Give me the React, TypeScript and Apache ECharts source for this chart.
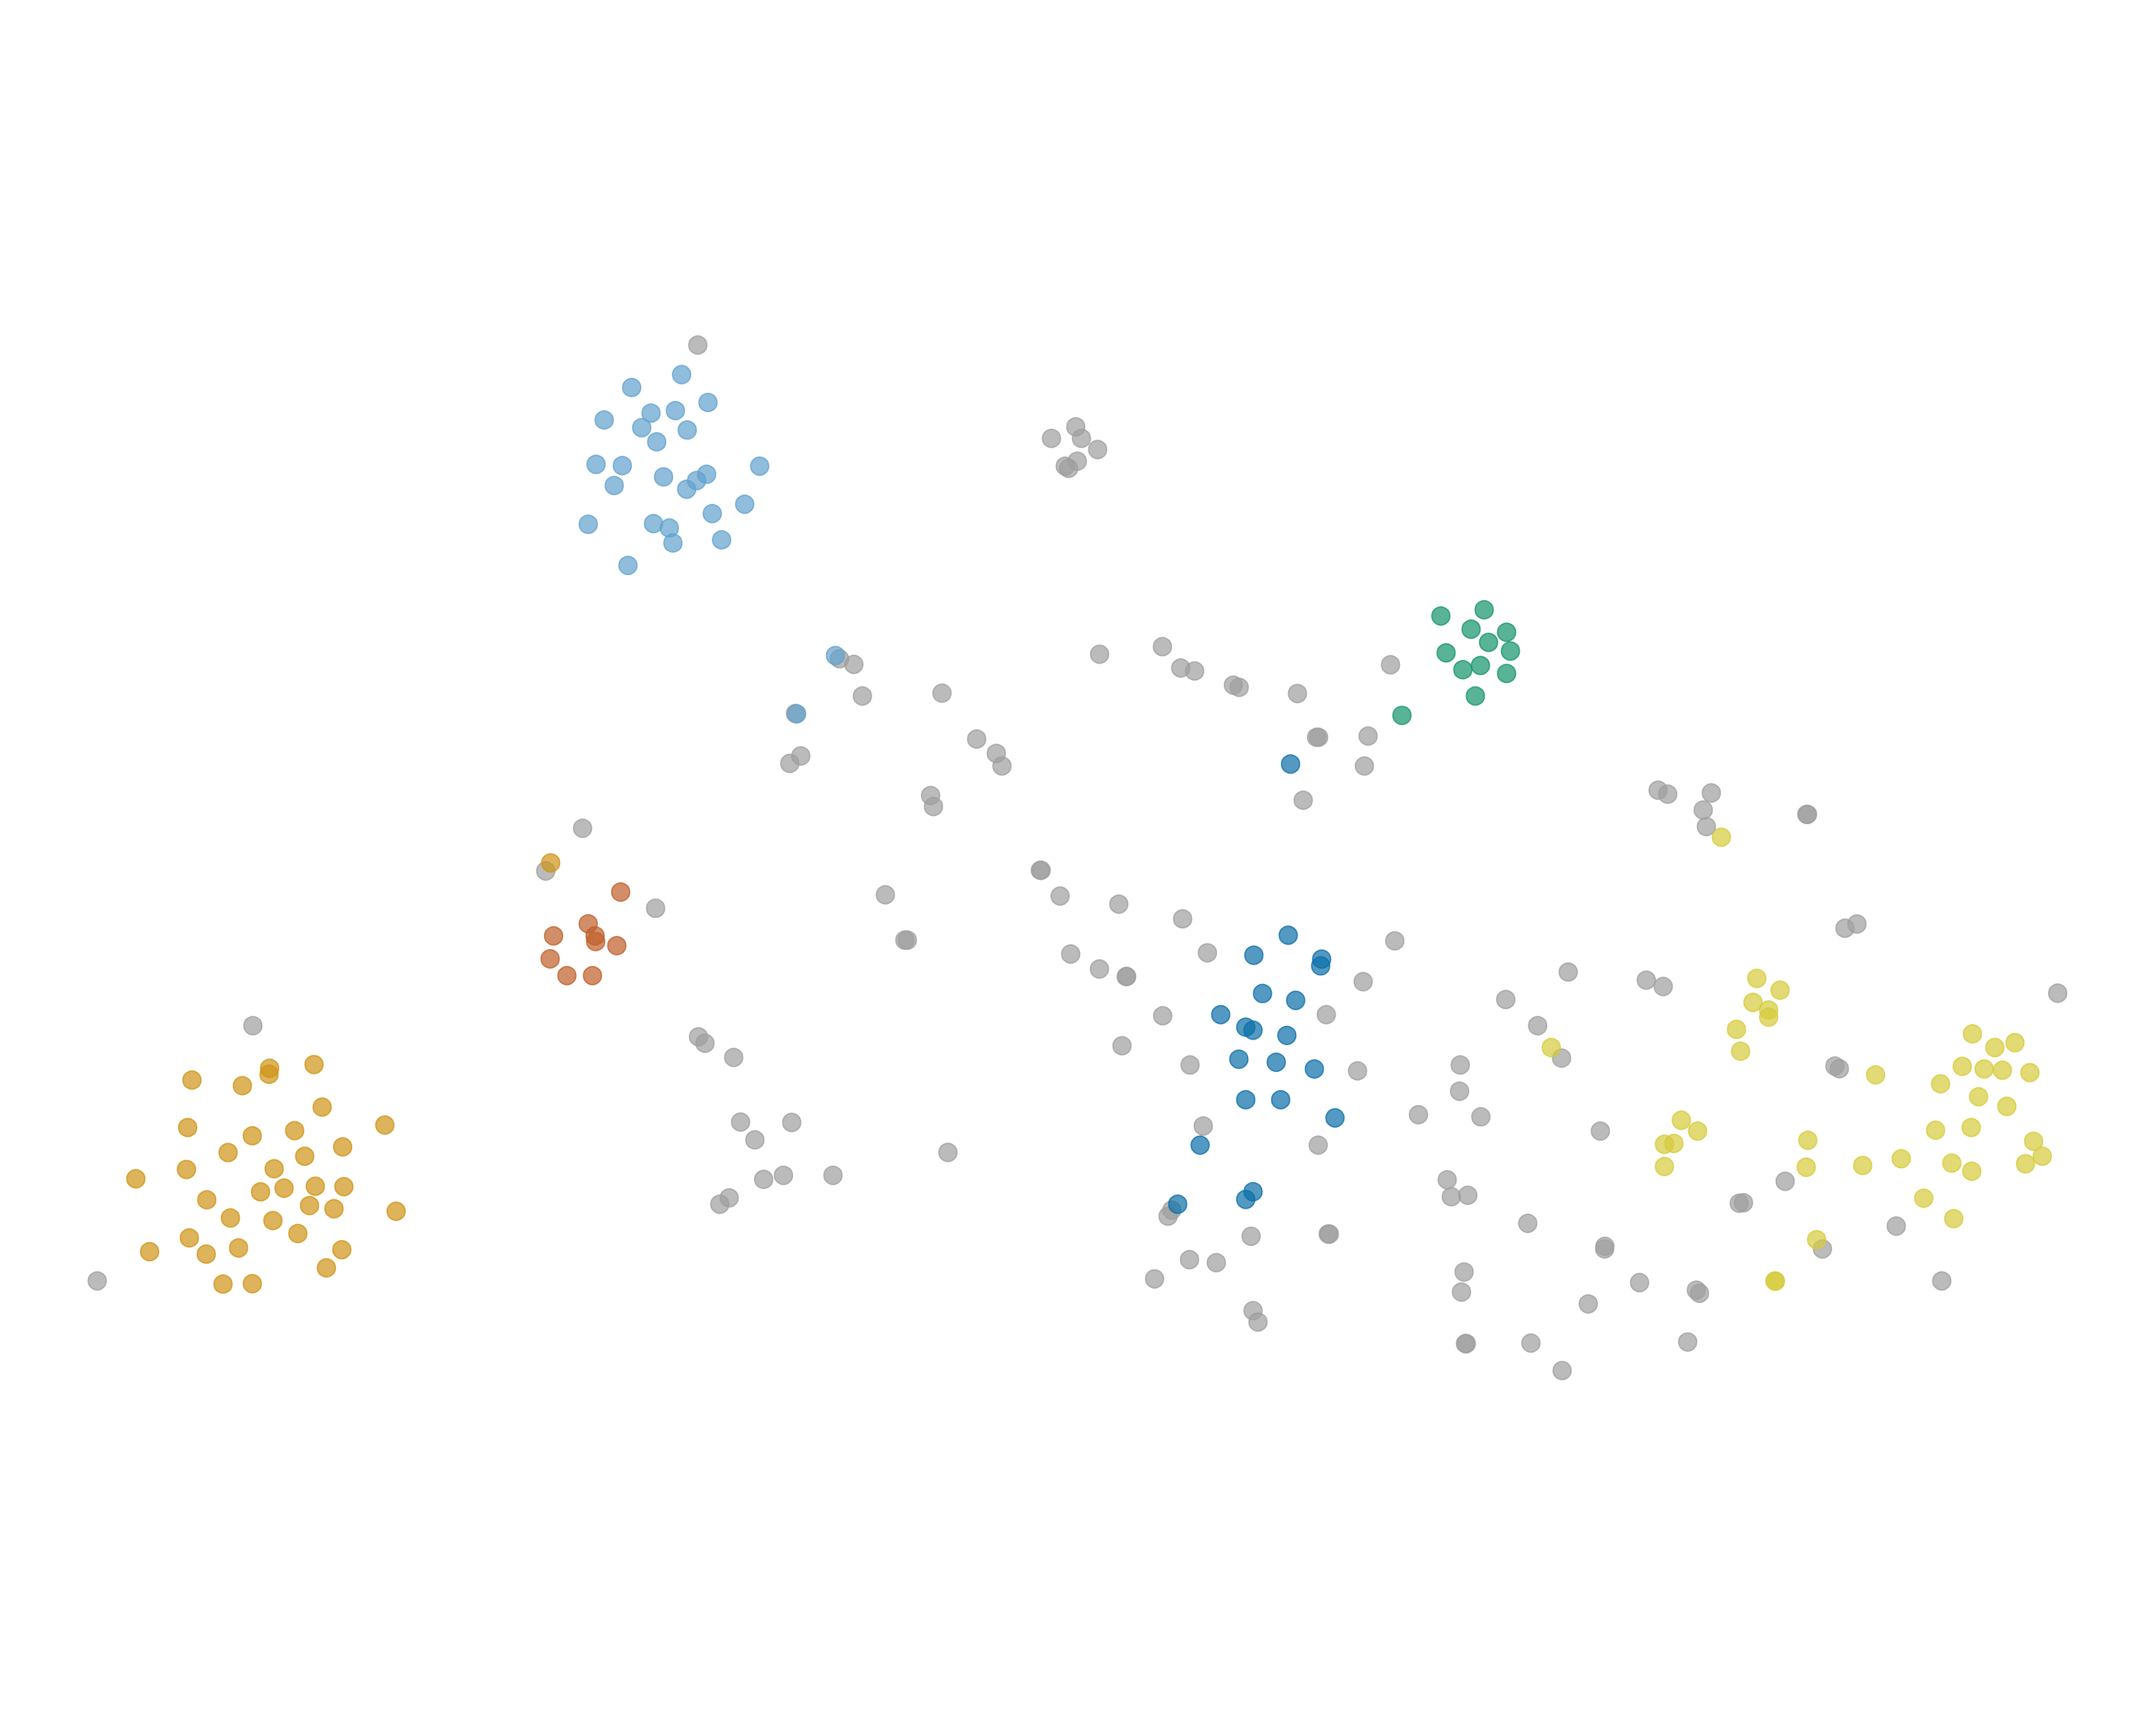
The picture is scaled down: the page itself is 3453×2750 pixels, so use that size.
import React, { useEffect, useRef } from "react";
import * as echarts from "echarts";

// Embedding coordinates (arbitrary units, y grows downward)
const grayPoints: number[][] = [
  [507.5, 251.0], [183.9, 746.1], [70.7, 931.8], [423.7, 602.5], [396.9, 633.6], [476.8, 660.7],
  [764.7, 318.9], [782.4, 310.5], [786.5, 318.9], [798.3, 327.0], [783.5, 335.5], [774.7, 339.1], [777.2, 340.7],
  [610.6, 479.2], [621.0, 483.3], [799.7, 475.9], [845.4, 470.4], [858.7, 485.9], [868.8, 488.1],
  [897.0, 498.4], [901.2, 500.0], [1011.3, 483.6], [627.2, 506.3], [685.1, 504.2], [943.6, 504.5],
  [578.5, 519.0], [710.3, 537.6], [957.5, 536.3], [959.0, 536.3], [995.0, 535.4], [582.4, 549.9], [574.4, 555.3],
  [724.6, 548.1], [728.7, 557.2], [992.3, 557.2], [676.8, 578.7], [678.9, 586.7], [947.8, 582.1],
  [1205.9, 574.8], [1212.9, 577.7], [1244.6, 576.8], [1238.7, 589.3], [1241.0, 601.3], [1314.0, 592.4], [1314.6, 592.4],
  [1341.8, 675.2], [1350.5, 672.2], [1496.5, 722.5],
  [643.9, 650.9], [658.1, 683.9], [659.9, 683.9], [756.6, 633.1], [757.2, 633.1], [771.0, 651.8], [813.7, 657.7],
  [778.7, 694.0], [799.6, 704.9], [819.1, 710.4],
  [508.0, 754.2], [512.7, 758.9], [533.6, 769.2], [538.6, 816.2], [575.8, 816.5], [549.0, 829.2], [689.4, 838.3],
  [555.4, 857.9], [569.8, 855.0], [605.8, 855.0], [530.3, 871.4], [523.5, 876.0],
  [860.1, 668.4], [1014.4, 684.4], [878.1, 693.1], [819.4, 710.3], [991.4, 714.1], [845.6, 738.9], [964.6, 738.1],
  [816.0, 760.7], [865.5, 774.7], [987.3, 779.0], [875.1, 819.1], [958.7, 833.0], [852.2, 880.3], [849.5, 884.7],
  [909.9, 899.3], [966.0, 897.7], [966.8, 897.7], [865.1, 916.3], [884.6, 918.5], [839.7, 930.3], [911.3, 953.4], [914.9, 961.7],
  [1140.5, 707.1], [1095.1, 727.1], [1197.3, 713.0], [1209.6, 717.6], [1118.3, 746.1], [1135.7, 769.7],
  [1062.0, 774.7], [1061.5, 793.8], [1031.6, 810.9], [1077.0, 812.4], [1334.5, 775.5], [1337.7, 777.4],
  [1163.9, 822.8], [1298.3, 859.3], [1052.5, 858.2], [1055.5, 870.5], [1067.5, 869.5], [1264.9, 875.3], [1268.0, 874.9],
  [1111.1, 889.9], [1379.1, 891.9], [1167.2, 906.6], [1167.0, 908.5], [1325.4, 908.5], [1064.8, 925.3], [1062.9, 939.9],
  [1192.4, 933.0], [1233.7, 938.5], [1236.0, 940.8], [1155.1, 948.5], [1065.8, 977.4], [1066.4, 977.4],
  [1113.4, 977.0], [1227.4, 976.2], [1136.1, 997.0], [1412.2, 931.8],
];

const lightBluePoints: number[][] = [
  [495.7, 272.5], [459.4, 281.9], [514.9, 292.8], [473.5, 300.5], [491.2, 298.7], [439.4, 305.5],
  [466.7, 311.1], [499.8, 312.8], [477.6, 321.4], [433.5, 337.8], [452.6, 338.7], [552.5, 339.1],
  [482.6, 346.9], [513.9, 345.0], [506.6, 349.6], [446.7, 353.2], [499.4, 355.9], [541.6, 366.8],
  [518.0, 373.6], [427.8, 381.4], [475.3, 380.9], [486.8, 384.1], [489.4, 395.0], [524.8, 392.7],
  [456.7, 411.3], [607.6, 476.9], [579.4, 519.3],
];

const orangePoints: number[][] = [
  [228.4, 774.4], [196.1, 777.1], [195.7, 781.5], [139.6, 785.7], [176.3, 789.8], [234.3, 805.3],
  [279.9, 818.4], [136.5, 820.2], [214.3, 822.5], [183.5, 826.2], [249.2, 834.3], [165.9, 838.4],
  [221.6, 841.1], [199.4, 850.2], [135.6, 850.7], [98.8, 857.5], [206.6, 864.3], [229.3, 862.9],
  [250.1, 863.2], [189.5, 867.0], [150.4, 872.8], [225.1, 877.0], [242.9, 879.3], [288.1, 881.1],
  [167.6, 886.0], [198.5, 887.9], [216.6, 897.3], [137.7, 900.5], [108.8, 910.5], [173.5, 907.8],
  [150.0, 912.3], [248.6, 909.1], [237.4, 922.3], [162.2, 934.1], [183.5, 933.8], [400.5, 627.7],
];

const redPoints: number[][] = [
  [451.4, 648.9], [427.8, 672.0], [402.6, 680.8], [432.8, 680.8], [433.2, 684.9], [448.6, 687.9],
  [400.1, 697.5], [412.3, 709.7], [430.9, 709.7],
];

const greenPoints: number[][] = [
  [1047.9, 448.1], [1079.4, 443.6], [1069.9, 457.7], [1095.7, 459.9], [1082.6, 467.3], [1098.5, 473.6],
  [1051.7, 474.9], [1063.9, 487.2], [1076.7, 484.1], [1095.7, 489.9], [1073.0, 506.3], [1019.6, 520.4],
];

const bluePoints: number[][] = [
  [938.6, 555.8], [936.9, 680.3], [911.9, 694.9], [961.2, 697.7], [960.5, 702.6], [918.2, 722.7],
  [942.3, 727.7], [887.8, 738.1], [906.0, 747.2], [911.3, 749.4], [935.9, 753.2], [901.0, 770.5],
  [928.2, 772.7], [955.9, 777.6], [906.0, 800.0], [931.4, 800.0], [970.9, 813.2], [872.8, 833.0],
  [911.3, 866.9], [906.0, 872.5], [856.5, 876.0],
];

const yellowPoints: number[][] = [
  [1251.9, 609.0], [1277.7, 711.7], [1294.6, 720.3], [1274.9, 729.2], [1286.3, 734.7], [1286.3, 739.9],
  [1262.9, 748.8], [1265.9, 764.7], [1128.2, 762.0], [1222.8, 814.9], [1234.6, 822.8], [1210.5, 832.4],
  [1217.4, 831.8], [1210.5, 848.6], [1314.8, 829.5], [1313.6, 849.1], [1321.2, 901.8], [1290.9, 931.8],
  [1291.2, 932.0], [1364.1, 781.9], [1354.7, 847.8], [1382.7, 842.9],
  [1434.5, 752.1], [1450.8, 762.0], [1465.4, 758.5], [1427.1, 775.7], [1443.0, 777.6], [1456.3, 778.5],
  [1476.3, 780.3], [1411.3, 788.4], [1439.0, 797.8], [1459.5, 804.8], [1407.7, 822.1], [1433.6, 820.2],
  [1479.0, 830.2], [1485.3, 841.1], [1473.1, 846.6], [1419.5, 846.1], [1434.0, 852.0], [1399.1, 871.6],
  [1420.9, 886.5],
];

const groups = [
  { name: "other", data: grayPoints, color: "#9f9f9f" },
  { name: "c1", data: lightBluePoints, color: "#62a1cd" },
  { name: "c2", data: orangePoints, color: "#cf9417" },
  { name: "c3", data: redPoints, color: "#bf5f2b" },
  { name: "c4", data: greenPoints, color: "#14936c" },
  { name: "c5", data: bluePoints, color: "#0b6ea8" },
  { name: "c6", data: yellowPoints, color: "#d6cb3a" },
];

function hexToRgba(hex: string, a: number) {
  const r = parseInt(hex.slice(1, 3), 16);
  const g = parseInt(hex.slice(3, 5), 16);
  const b = parseInt(hex.slice(5, 7), 16);
  return `rgba(${r},${g},${b},${a})`;
}

export default function App() {
  const ref = useRef<HTMLDivElement>(null);
  useEffect(() => {
    if (!ref.current) return;
    const chart = echarts.init(ref.current, undefined, { renderer: "svg" });
    chart.setOption({
      animation: false,
      backgroundColor: "#ffffff",
      grid: { left: 0, right: 0, top: 0, bottom: 0 },
      xAxis: { type: "value", min: 0, max: 1568, show: false },
      yAxis: { type: "value", min: 0, max: 1249, inverse: true, show: false },
      series: groups.map((g) => ({
        type: "scatter",
        name: g.name,
        data: g.data,
        symbol: "circle",
        symbolSize: 29,
        itemStyle: {
          color: hexToRgba(g.color, 0.88),
          borderColor: hexToRgba(g.color, 1),
          borderWidth: 2,
        },
      })),
    });
    return () => chart.dispose();
  }, []);
  return (
    <div
      ref={ref}
      style={{ position: "absolute", left: 0, top: 0, width: 3453, height: 2750 }}
    />
  );
}
